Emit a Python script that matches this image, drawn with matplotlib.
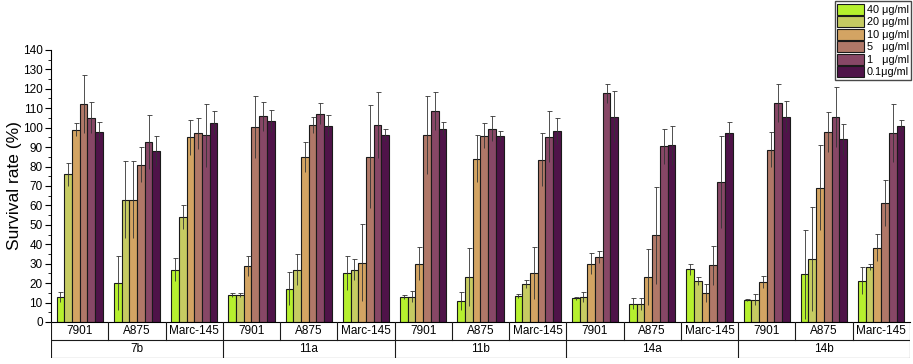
import numpy as np
import matplotlib
matplotlib.use("Agg")
import matplotlib.pyplot as plt
from matplotlib.patches import Patch

plt.rcParams['font.family'] = ['Liberation Sans', 'DejaVu Sans']

# data
compounds = ['7b', '11a', '11b', '14a', '14b']
cells = ['7901', 'A875', 'Marc-145']
conc_labels = ['40 μg/ml', '20 μg/ml', '10 μg/ml', '5   μg/ml', '1   μg/ml', '0.1μg/ml']
colors = ['#b6f02e', '#c6cb62', '#d3a463', '#b07868', '#874766', '#4f1349']

v40 = [13, 20, 27, 13.7, 17, 25.2, 12.8, 10.8, 13.4, 12.1, 9.4, 27.2, 11.5, 24.5, 21.2]
e40 = [2.5, 14, 6, 1, 8.5, 8.5, 1, 4.6, 1, 1, 2.7, 2.8, 0.5, 23, 7]
v20 = [76, 63, 54, 13.9, 27, 27, 12.9, 23.1, 19.7, 12.8, 9.2, 20.9, 11.5, 32.4, 28.4]
e20 = [6, 20, 6, 1, 8, 5.3, 2.8, 15, 2, 2.6, 2.9, 2, 3, 27, 1.5]
v10 = [99, 63, 95, 28.8, 84.8, 30.6, 30, 84.1, 25, 30, 23.1, 14.9, 20.6, 69.2, 38.2]
e10 = [3.5, 20, 9, 5, 7.7, 20, 8.5, 12, 13.4, 5.5, 14.4, 4.6, 3, 22, 7]
v5 = [112, 81, 97, 100.3, 101.3, 85.1, 96.3, 95.8, 83.6, 33.6, 44.7, 29.1, 88.7, 97.7, 61.2]
e5 = [15, 9, 8, 16, 4, 26.5, 20, 6.5, 13.7, 3, 25, 10, 9, 10.4, 11.8]
v1 = [105, 92.5, 96, 105.9, 107.2, 101.3, 108.6, 99.5, 95.4, 117.7, 90.3, 72.1, 112.7, 105.6, 97.2]
e1 = [8, 14, 16, 7.5, 5.4, 16.8, 9.6, 6.4, 13, 5, 9, 23.5, 10, 15.5, 15]
v01 = [98, 88, 102.5, 103.5, 101, 96.1, 99.5, 95.9, 98.5, 105.7, 91, 97.2, 105.6, 93.9, 101.1]
e01 = [5, 7.5, 6, 5.5, 5.5, 3, 3.5, 2.6, 6.7, 13, 10, 5.6, 8, 8, 3]

values = [v40, v20, v10, v5, v1, v01]
errors = [e40, e20, e10, e5, e1, e01]

fig = plt.figure(figsize=(9.13, 3.64), dpi=100)
ax = fig.add_axes([0.056, 0.1154, 0.9405, 0.7475])

n_groups = len(compounds) * len(cells)
x = np.arange(n_groups)
w = 0.135

for j in range(6):
    xs = x + (j - 2.5) * w
    ax.bar(xs, values[j], width=w, color=colors[j], edgecolor='#1a1a1a', linewidth=0.8, zorder=2)
    eb = ax.errorbar(xs, values[j], yerr=errors[j], fmt='none', ecolor='#333333',
                     elinewidth=0.6, capsize=1.8, capthick=0.6, zorder=3)
    # cap only on the top end
    eb[1][0].set_visible(False)

ax.set_xlim(-0.5, n_groups - 0.5)
ax.set_ylim(0, 140)
ax.set_yticks(np.arange(0, 141, 10))
ax.set_yticks(np.arange(0, 141, 5), minor=True)
ax.tick_params(axis='y', labelsize=8.5, length=4, width=0.8, direction='out', pad=2)
ax.tick_params(axis='y', which='minor', length=2, width=0.6)
ax.set_xticks([])
ax.spines['top'].set_visible(False)
ax.spines['right'].set_visible(False)
ax.spines['left'].set_linewidth(0.8)
ax.spines['bottom'].set_linewidth(0.8)
ax.set_ylabel('Survival rate (%)', fontsize=12.5, labelpad=1)

# label table under the axis
tab = fig.add_axes([0.056, 0.0165, 0.9405, 0.099])
tab.set_xlim(-0.5, n_groups - 0.5)
tab.set_ylim(0, 2)
tab.axis('off')
lk = dict(color='#1a1a1a', lw=0.8)
tab.plot([-0.5, n_groups - 0.5], [1, 1], **lk)
tab.plot([-0.5, n_groups - 0.5], [0, 0], **lk)
for g in range(n_groups + 1):
    b = g - 0.5
    if g % len(cells) == 0:
        tab.plot([b, b], [0, 2], **lk)
    else:
        tab.plot([b, b], [1, 2], **lk)
for g in range(n_groups):
    tab.text(g, 1.5, cells[g % len(cells)], ha='center', va='center', fontsize=8.5)
for c, name in enumerate(compounds):
    tab.text(c * len(cells) + 1, 0.5, name, ha='center', va='center', fontsize=8.5)

handles = [Patch(facecolor=colors[j], edgecolor='#1a1a1a', linewidth=0.8) for j in range(6)]
fig.legend(handles, conc_labels, loc='upper right', bbox_to_anchor=(0.999, 0.999),
           fontsize=7.8, frameon=True, fancybox=False, edgecolor='#1a1a1a',
           handlelength=2.5, handleheight=1.2, labelspacing=0.12, borderpad=0.2,
           handletextpad=0.25, borderaxespad=0.1)

fig.savefig('out.png', dpi=100)
